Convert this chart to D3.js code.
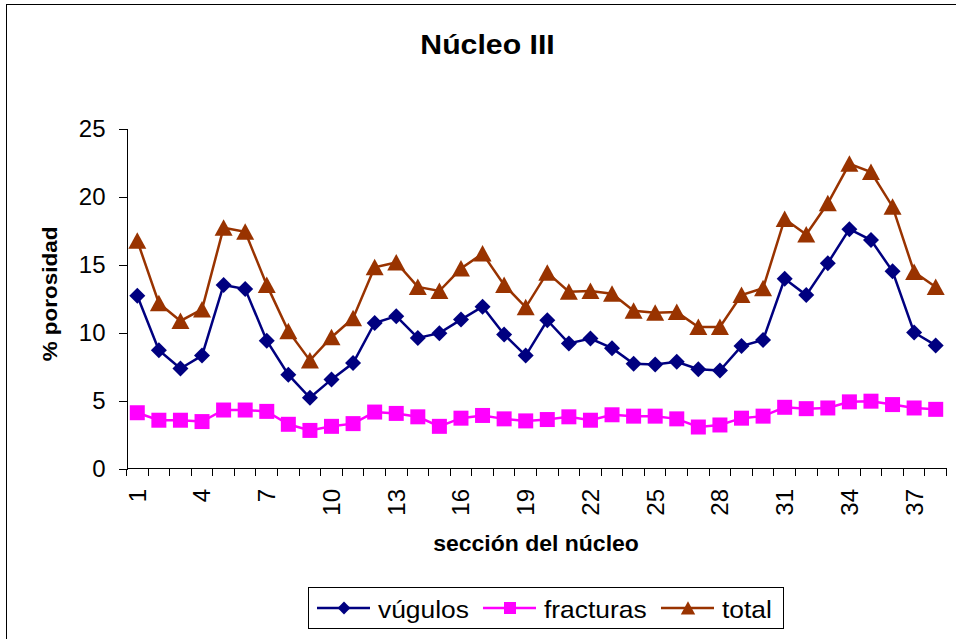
<!DOCTYPE html>
<html>
<head>
<meta charset="utf-8"/>
<title>Núcleo III</title>
<script src="https://d3js.org/d3.v7.min.js"></script>
<style>
  body { margin: 0; background: #fff; }
  text { font-family: "Liberation Sans", Arial, sans-serif; fill: #000; }
  .axis path, .axis line { stroke: #000; shape-rendering: crispEdges; }
</style>
</head>
<body>
<svg width="956" height="639"></svg>
<script>
// section numbers and porosity (%) per series
var secciones = d3.range(1, 39);
var vugulos = [12.7, 8.7, 7.35, 8.3, 13.5, 13.2, 9.4, 6.9, 5.2, 6.55,
               7.75, 10.7, 11.2, 9.6, 9.95, 10.95, 11.9, 9.85, 8.3, 10.9,
               9.2, 9.55, 8.85, 7.7, 7.65, 7.85, 7.3, 7.2, 9.0, 9.45,
               13.95, 12.75, 15.1, 17.6, 16.8, 14.5, 10.0, 9.05];
var fracturas = [4.1, 3.55, 3.55, 3.45, 4.3, 4.3, 4.2, 3.25, 2.8, 3.1,
                 3.3, 4.15, 4.05, 3.8, 3.1, 3.7, 3.9, 3.65, 3.5, 3.6,
                 3.8, 3.55, 3.95, 3.85, 3.85, 3.65, 3.05, 3.2, 3.7, 3.85,
                 4.5, 4.4, 4.45, 4.9, 4.95, 4.7, 4.45, 4.35];
var total = [16.75, 12.15, 10.85, 11.7, 17.7, 17.4, 13.5, 10.1, 7.95, 9.65,
             11.05, 14.8, 15.15, 13.35, 13.05, 14.7, 15.8, 13.5, 11.85, 14.4,
             13.0, 13.05, 12.85, 11.6, 11.45, 11.5, 10.4, 10.4, 12.75, 13.25,
             18.35, 17.2, 19.5, 22.4, 21.8, 19.25, 14.45, 13.35];
var yTicks = [0, 5, 10, 15, 20, 25];

var series = [
  {name: "vúgulos", values: vugulos, color: "#000080", marker: "diamond"},
  {name: "fracturas", values: fracturas, color: "#FF00FF", marker: "square"},
  {name: "total", values: total, color: "#993300", marker: "triangle"}
];

var svg = d3.select("svg");

// chart border (right/bottom edges fall outside the picture)
svg.append("rect")
  .attr("x", 6.5).attr("y", 4.5)
  .attr("width", 1000).attr("height", 1000)
  .attr("fill", "#fff").attr("stroke", "#000");

var x = d3.scaleBand().domain(secciones).range([126.5, 946.5]).padding(0);
var y = d3.scaleLinear().domain([0, 25]).range([468.5, 128.5]);
function cx(i) { return x(secciones[i]) + x.bandwidth() / 2; }

function markerPath(type) {
  if (type == "diamond") return "M0,-8L8,0L0,8L-8,0Z";
  if (type == "square") return "M-7.5,-7.5H7.5V7.5H-7.5Z";
  return "M0,-8.5L9,8H-9Z";
}

// text is stretched sideways in the original, so scale x a bit
function stretched(g, tx, ty, rot, sx, size, str) {
  g.append("text")
    .attr("transform", "translate(" + tx + "," + ty + ") rotate(" + rot + ") scale(" + sx + ",1)")
    .attr("text-anchor", "middle")
    .attr("font-size", size).attr("font-weight", "bold")
    .text(str);
}

// title
stretched(svg, 487.5, 54, 0, 1.12, 27, "Núcleo III");

// y axis
var yAxis = svg.append("g").attr("class", "axis")
  .attr("transform", "translate(126.5,0)")
  .call(d3.axisLeft(y).tickValues(yTicks).tickSize(8).tickPadding(13));
yAxis.select(".domain").attr("stroke", "#555");
yAxis.selectAll("text").attr("font-size", 24)
  .attr("font-family", "'Liberation Sans', Arial, sans-serif");

// x axis: ticks at category boundaries, labels every third section
var xa = svg.append("g").attr("class", "axis");
xa.append("line")
  .attr("x1", x.range()[0]).attr("x2", x.range()[1])
  .attr("y1", y(0)).attr("y2", y(0));
xa.selectAll("line.tick")
  .data(secciones.concat([39]))
  .enter().append("line")
  .attr("class", "tick")
  .attr("x1", function(d) { return d == 39 ? x.range()[1] : x(d); })
  .attr("x2", function(d) { return d == 39 ? x.range()[1] : x(d); })
  .attr("y1", y(0)).attr("y2", y(0) + 7);
xa.selectAll("text")
  .data(secciones.filter(function(d) { return (d - 1) % 3 == 0; }))
  .enter().append("text")
  .attr("transform", function(d) {
    return "translate(" + (x(d) + x.bandwidth() / 2) + ",489) rotate(-90)";
  })
  .attr("text-anchor", "end")
  .attr("dy", "0.35em")
  .attr("font-size", 24)
  .text(function(d) { return d; });

// axis titles
stretched(svg, 536, 551, 0, 1.07, 21.5, "sección del núcleo");
stretched(svg, 57, 294, -90, 1.07, 21, "% porosidad");

// series
var line = d3.line()
  .x(function(d, i) { return cx(i); })
  .y(function(d) { return y(d); });

series.forEach(function(s) {
  var g = svg.append("g");
  g.append("path")
    .attr("d", line(s.values))
    .attr("fill", "none")
    .attr("stroke", s.color)
    .attr("stroke-width", 2.5);
  g.selectAll("path.m")
    .data(s.values)
    .enter().append("path")
    .attr("class", "m")
    .attr("transform", function(d, i) { return "translate(" + cx(i) + "," + y(d) + ")"; })
    .attr("d", markerPath(s.marker))
    .attr("fill", s.color);
});

// legend
var legend = svg.append("g");
legend.append("rect")
  .attr("x", 308.5).attr("y", 587.5)
  .attr("width", 475).attr("height", 41)
  .attr("fill", "#fff").attr("stroke", "#000");
var legendX = [317, 483, 661];
series.forEach(function(s, i) {
  var lg = legend.append("g").attr("transform", "translate(" + legendX[i] + ",608)");
  lg.append("line")
    .attr("x1", 0).attr("x2", 53)
    .attr("stroke", s.color).attr("stroke-width", 2.5);
  lg.append("path")
    .attr("transform", "translate(27,0) scale(0.8)")
    .attr("d", markerPath(s.marker))
    .attr("fill", s.color);
  lg.append("text")
    .attr("transform", "translate(61,9.5) scale(1.1,1)")
    .attr("font-size", 24)
    .text(s.name);
});
</script>
</body>
</html>
